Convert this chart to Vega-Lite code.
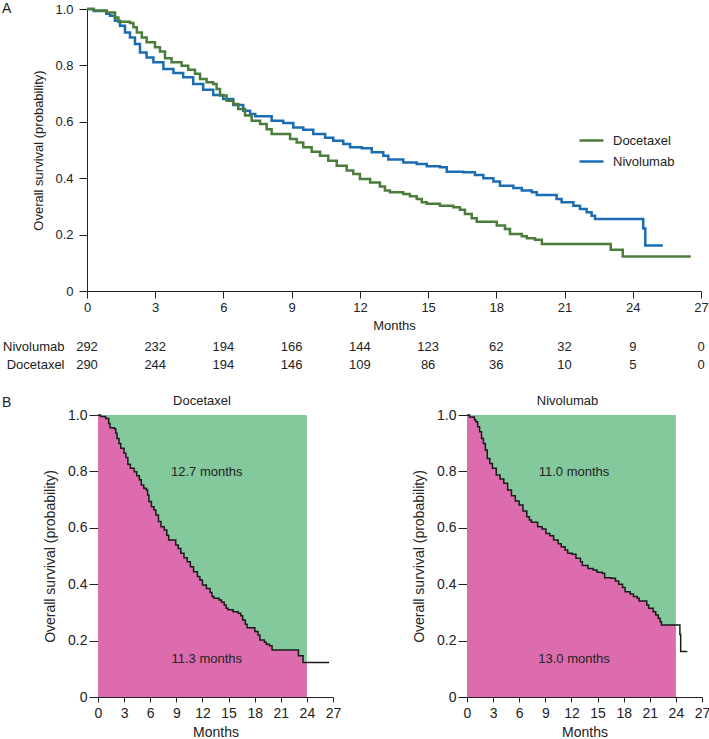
{
  "$schema": "https://vega.github.io/schema/vega-lite/v6.json",
  "padding": {"left": 2, "top": 2, "right": 0, "bottom": 0},
  "config": {
    "font": "Liberation Sans",
    "view": {"stroke": null},
    "axis": {"grid": false, "domainColor": "#222222", "tickColor": "#222222", "labelColor": "#222222", "titleColor": "#222222", "labelFontSize": 13, "titleFontSize": 13, "titleFontWeight": "normal", "labelFlush": false, "labelOverlap": false},
    "title": {"fontSize": 13, "fontWeight": "normal", "color": "#222222"}
  },
  "datasets": {
    "km": [
      {"arm":"Nivolumab","month":0,"surv":1.0},{"arm":"Nivolumab","month":0.3,"surv":0.993},{"arm":"Nivolumab","month":0.85,"surv":0.983},{"arm":"Nivolumab","month":1.01,"surv":0.976},{"arm":"Nivolumab","month":1.23,"surv":0.958},{"arm":"Nivolumab","month":1.45,"surv":0.941},{"arm":"Nivolumab","month":1.67,"surv":0.917},{"arm":"Nivolumab","month":1.89,"surv":0.899},{"arm":"Nivolumab","month":2.11,"surv":0.876},{"arm":"Nivolumab","month":2.33,"surv":0.846},{"arm":"Nivolumab","month":2.62,"surv":0.828},{"arm":"Nivolumab","month":2.92,"surv":0.811},{"arm":"Nivolumab","month":3.36,"surv":0.787},{"arm":"Nivolumab","month":3.8,"surv":0.773},{"arm":"Nivolumab","month":4.23,"surv":0.758},{"arm":"Nivolumab","month":4.67,"surv":0.734},{"arm":"Nivolumab","month":5.11,"surv":0.714},{"arm":"Nivolumab","month":5.55,"surv":0.695},{"arm":"Nivolumab","month":5.99,"surv":0.681},{"arm":"Nivolumab","month":6.43,"surv":0.66},{"arm":"Nivolumab","month":6.87,"surv":0.639},{"arm":"Nivolumab","month":7.17,"surv":0.628},{"arm":"Nivolumab","month":7.4,"surv":0.62},{"arm":"Nivolumab","month":8.12,"surv":0.604},{"arm":"Nivolumab","month":8.63,"surv":0.596},{"arm":"Nivolumab","month":9.07,"surv":0.58},{"arm":"Nivolumab","month":9.51,"surv":0.572},{"arm":"Nivolumab","month":9.95,"surv":0.557},{"arm":"Nivolumab","month":10.47,"surv":0.543},{"arm":"Nivolumab","month":10.83,"surv":0.533},{"arm":"Nivolumab","month":11.27,"surv":0.521},{"arm":"Nivolumab","month":11.57,"surv":0.51},{"arm":"Nivolumab","month":12.08,"surv":0.506},{"arm":"Nivolumab","month":12.52,"surv":0.492},{"arm":"Nivolumab","month":13.03,"surv":0.48},{"arm":"Nivolumab","month":13.25,"surv":0.466},{"arm":"Nivolumab","month":13.91,"surv":0.456},{"arm":"Nivolumab","month":14.5,"surv":0.45},{"arm":"Nivolumab","month":14.94,"surv":0.442},{"arm":"Nivolumab","month":15.52,"surv":0.439},{"arm":"Nivolumab","month":15.82,"surv":0.423},{"arm":"Nivolumab","month":16.55,"surv":0.421},{"arm":"Nivolumab","month":17.06,"surv":0.411},{"arm":"Nivolumab","month":17.43,"surv":0.4},{"arm":"Nivolumab","month":17.87,"surv":0.388},{"arm":"Nivolumab","month":18.16,"surv":0.373},{"arm":"Nivolumab","month":18.75,"surv":0.365},{"arm":"Nivolumab","month":19.12,"surv":0.356},{"arm":"Nivolumab","month":19.56,"surv":0.35},{"arm":"Nivolumab","month":19.78,"surv":0.34},{"arm":"Nivolumab","month":20.65,"surv":0.326},{"arm":"Nivolumab","month":20.87,"surv":0.315},{"arm":"Nivolumab","month":21.39,"surv":0.302},{"arm":"Nivolumab","month":21.68,"surv":0.291},{"arm":"Nivolumab","month":21.97,"surv":0.279},{"arm":"Nivolumab","month":22.19,"surv":0.267},{"arm":"Nivolumab","month":22.34,"surv":0.255},{"arm":"Nivolumab","month":24.0,"surv":0.255},{"arm":"Nivolumab","month":24.46,"surv":0.222},{"arm":"Nivolumab","month":24.55,"surv":0.161},{"arm":"Nivolumab","month":25.32,"surv":0.161},
      {"arm":"Docetaxel","month":0,"surv":1.0},{"arm":"Docetaxel","month":0.3,"surv":0.995},{"arm":"Docetaxel","month":0.87,"surv":0.988},{"arm":"Docetaxel","month":1.23,"surv":0.97},{"arm":"Docetaxel","month":1.38,"surv":0.955},{"arm":"Docetaxel","month":1.89,"surv":0.95},{"arm":"Docetaxel","month":2.04,"surv":0.935},{"arm":"Docetaxel","month":2.19,"surv":0.917},{"arm":"Docetaxel","month":2.41,"surv":0.899},{"arm":"Docetaxel","month":2.62,"surv":0.882},{"arm":"Docetaxel","month":2.99,"surv":0.864},{"arm":"Docetaxel","month":3.21,"surv":0.849},{"arm":"Docetaxel","month":3.43,"surv":0.825},{"arm":"Docetaxel","month":3.72,"surv":0.811},{"arm":"Docetaxel","month":4.16,"surv":0.799},{"arm":"Docetaxel","month":4.45,"surv":0.785},{"arm":"Docetaxel","month":4.75,"surv":0.77},{"arm":"Docetaxel","month":4.97,"surv":0.752},{"arm":"Docetaxel","month":5.26,"surv":0.74},{"arm":"Docetaxel","month":5.55,"surv":0.734},{"arm":"Docetaxel","month":5.7,"surv":0.716},{"arm":"Docetaxel","month":5.85,"surv":0.693},{"arm":"Docetaxel","month":6.14,"surv":0.675},{"arm":"Docetaxel","month":6.43,"surv":0.663},{"arm":"Docetaxel","month":6.65,"surv":0.645},{"arm":"Docetaxel","month":6.95,"surv":0.622},{"arm":"Docetaxel","month":7.24,"surv":0.604},{"arm":"Docetaxel","month":7.61,"surv":0.592},{"arm":"Docetaxel","month":7.9,"surv":0.574},{"arm":"Docetaxel","month":8.12,"surv":0.557},{"arm":"Docetaxel","month":8.93,"surv":0.539},{"arm":"Docetaxel","month":9.22,"surv":0.527},{"arm":"Docetaxel","month":9.51,"surv":0.51},{"arm":"Docetaxel","month":9.88,"surv":0.494},{"arm":"Docetaxel","month":10.25,"surv":0.48},{"arm":"Docetaxel","month":10.61,"surv":0.462},{"arm":"Docetaxel","month":10.98,"surv":0.444},{"arm":"Docetaxel","month":11.42,"surv":0.427},{"arm":"Docetaxel","month":11.71,"surv":0.415},{"arm":"Docetaxel","month":12.0,"surv":0.397},{"arm":"Docetaxel","month":12.45,"surv":0.385},{"arm":"Docetaxel","month":12.88,"surv":0.371},{"arm":"Docetaxel","month":13.1,"surv":0.356},{"arm":"Docetaxel","month":13.32,"surv":0.35},{"arm":"Docetaxel","month":13.91,"surv":0.344},{"arm":"Docetaxel","month":14.2,"surv":0.336},{"arm":"Docetaxel","month":14.5,"surv":0.326},{"arm":"Docetaxel","month":14.72,"surv":0.315},{"arm":"Docetaxel","month":14.94,"surv":0.309},{"arm":"Docetaxel","month":15.52,"surv":0.302},{"arm":"Docetaxel","month":16.11,"surv":0.297},{"arm":"Docetaxel","month":16.4,"surv":0.288},{"arm":"Docetaxel","month":16.62,"surv":0.273},{"arm":"Docetaxel","month":16.92,"surv":0.258},{"arm":"Docetaxel","month":17.14,"surv":0.246},{"arm":"Docetaxel","month":18.02,"surv":0.232},{"arm":"Docetaxel","month":18.38,"surv":0.22},{"arm":"Docetaxel","month":18.6,"surv":0.202},{"arm":"Docetaxel","month":19.12,"surv":0.194},{"arm":"Docetaxel","month":19.34,"surv":0.187},{"arm":"Docetaxel","month":19.7,"surv":0.182},{"arm":"Docetaxel","month":20.0,"surv":0.167},{"arm":"Docetaxel","month":23.03,"surv":0.146},{"arm":"Docetaxel","month":23.56,"surv":0.122},{"arm":"Docetaxel","month":24.0,"surv":0.122},{"arm":"Docetaxel","month":26.55,"surv":0.122}
    ],
    "risk": [
      {"arm":"Nivolumab","month":0,"n":292},{"arm":"Nivolumab","month":3,"n":232},{"arm":"Nivolumab","month":6,"n":194},{"arm":"Nivolumab","month":9,"n":166},{"arm":"Nivolumab","month":12,"n":144},{"arm":"Nivolumab","month":15,"n":123},{"arm":"Nivolumab","month":18,"n":62},{"arm":"Nivolumab","month":21,"n":32},{"arm":"Nivolumab","month":24,"n":9},{"arm":"Nivolumab","month":27,"n":0},
      {"arm":"Docetaxel","month":0,"n":290},{"arm":"Docetaxel","month":3,"n":244},{"arm":"Docetaxel","month":6,"n":194},{"arm":"Docetaxel","month":9,"n":146},{"arm":"Docetaxel","month":12,"n":109},{"arm":"Docetaxel","month":15,"n":86},{"arm":"Docetaxel","month":18,"n":36},{"arm":"Docetaxel","month":21,"n":10},{"arm":"Docetaxel","month":24,"n":5},{"arm":"Docetaxel","month":27,"n":0}
    ],
    "ann": [
      {"arm":"Docetaxel","month":12.5,"surv":0.797,"label":"12.7 months"},
      {"arm":"Docetaxel","month":12.5,"surv":0.135,"label":"11.3 months"},
      {"arm":"Nivolumab","month":12.3,"surv":0.797,"label":"11.0 months"},
      {"arm":"Nivolumab","month":12.3,"surv":0.135,"label":"13.0 months"}
    ]
  },
  "columns": 1,
  "bounds": "flush",
  "spacing": 40,
  "concat": [
    {
      "width": 614,
      "height": 282,
      "title": {"text": "A", "anchor": "start", "frame": "group", "dx": -85, "dy": 17, "fontSize": 14},
      "data": {"name": "km"},
      "mark": {"type": "line", "interpolate": "step-after", "strokeWidth": 2.5},
      "encoding": {
        "x": {"field": "month", "type": "quantitative", "scale": {"domain": [0, 27], "nice": false},
              "axis": {"values": [0,3,6,9,12,15,18,21,24,27], "labelOverlap": false, "title": "Months", "tickSize": 7, "labelPadding": 3, "titlePadding": 5}},
        "y": {"field": "surv", "type": "quantitative", "scale": {"domain": [0, 1], "nice": false},
              "axis": {"values": [0,0.2,0.4,0.6,0.8,1], "labelOverlap": false, "labelExpr": "datum.value == 0 ? '0' : format(datum.value, '.1f')", "title": "Overall survival (probability)", "tickSize": 8, "labelPadding": 6, "titlePadding": 9}},
        "color": {"field": "arm", "type": "nominal",
                  "scale": {"domain": ["Docetaxel", "Nivolumab"], "range": ["#4b7d3a", "#1b6cb3"]},
                  "legend": {"title": null, "orient": "none", "legendX": 491, "legendY": 118, "padding": 0, "symbolType": "stroke", "symbolSize": 576, "symbolStrokeWidth": 2.5, "labelFontSize": 13, "labelColor": "#222222", "labelOffset": 8, "rowPadding": -3}}
      }
    },
    {
      "width": 614,
      "height": 44,
      "data": {"name": "risk"},
      "mark": {"type": "text", "fontSize": 13, "color": "#222222"},
      "encoding": {
        "x": {"field": "month", "type": "quantitative", "scale": {"domain": [0, 27], "nice": false}, "axis": null},
        "y": {"field": "arm", "type": "nominal", "sort": ["Nivolumab", "Docetaxel"],
              "scale": {"type": "point", "padding": 0.722, "align": 0.615},
              "axis": {"title": null, "domain": false, "ticks": false, "labelPadding": 23, "labelFontSize": 13}},
        "text": {"field": "n", "type": "quantitative"}
      }
    },
    {
      "title": {"text": "B", "anchor": "start", "frame": "group", "dx": -85, "dy": 19, "fontSize": 14},
      "hconcat": [
        {
          "width": 246,
          "height": 282,
          "title": {"text": "Docetaxel", "frame": "group", "dx": -8, "dy": 4},
          "data": {"name": "km"},
          "transform": [{"filter": "datum.arm == 'Docetaxel'"}],
          "encoding": {
            "x": {"field": "month", "type": "quantitative", "scale": {"domain": [0, 27], "nice": false, "range": [11, 246]},
                  "axis": {"values": [0,3,6,9,12,15,18,21,24,27], "labelOverlap": false, "labelSeparation": 0, "title": "Months", "tickSize": 5, "labelPadding": 4, "titlePadding": 5, "labelFontSize": 14, "titleFontSize": 14}},
            "y": {"field": "surv", "type": "quantitative", "scale": {"domain": [0, 1], "nice": false},
                  "axis": {"values": [0,0.2,0.4,0.6,0.8,1], "labelOverlap": false, "offset": -11, "labelExpr": "datum.value == 0 ? '0' : format(datum.value, '.1f')", "title": "Overall survival (probability)", "tickSize": 9, "labelPadding": 2, "titlePadding": 10, "labelFontSize": 14, "titleFontSize": 14}}
          },
          "layer": [
            {
              "transform": [{"filter": "datum.month <= 24"}],
              "mark": {"type": "area", "interpolate": "step-after", "color": "#84c99c"},
              "encoding": {"y2": {"datum": 1}}
            },
            {
              "transform": [{"filter": "datum.month <= 24"}],
              "mark": {"type": "area", "interpolate": "step-after", "color": "#dc6cae"},
              "encoding": {}
            },
            {
              "mark": {"type": "line", "interpolate": "step-after", "color": "#1a1a1a", "strokeWidth": 1.5},
              "encoding": {}
            },
            {
              "data": {"name": "ann"},
              "transform": [{"filter": "datum.arm == 'Docetaxel'"}],
              "mark": {"type": "text", "fontSize": 13, "color": "#222222"},
              "encoding": {"text": {"field": "label"}}
            }
          ]
        },
        {
          "width": 235,
          "height": 282,
          "title": {"text": "Nivolumab", "frame": "group", "dx": -17, "dy": 4},
          "data": {"name": "km"},
          "transform": [{"filter": "datum.arm == 'Nivolumab'"}],
          "encoding": {
            "x": {"field": "month", "type": "quantitative", "scale": {"domain": [0, 27], "nice": false},
                  "axis": {"values": [0,3,6,9,12,15,18,21,24,27], "labelOverlap": false, "labelSeparation": 0, "title": "Months", "tickSize": 5, "labelPadding": 4, "titlePadding": 5, "labelFontSize": 14, "titleFontSize": 14}},
            "y": {"field": "surv", "type": "quantitative", "scale": {"domain": [0, 1], "nice": false},
                  "axis": {"values": [0,0.2,0.4,0.6,0.8,1], "labelOverlap": false, "labelExpr": "datum.value == 0 ? '0' : format(datum.value, '.1f')", "title": "Overall survival (probability)", "tickSize": 9, "labelPadding": 2, "titlePadding": 10, "labelFontSize": 14, "titleFontSize": 14}}
          },
          "layer": [
            {
              "transform": [{"filter": "datum.month <= 24"}],
              "mark": {"type": "area", "interpolate": "step-after", "color": "#84c99c"},
              "encoding": {"y2": {"datum": 1}}
            },
            {
              "transform": [{"filter": "datum.month <= 24"}],
              "mark": {"type": "area", "interpolate": "step-after", "color": "#dc6cae"},
              "encoding": {}
            },
            {
              "mark": {"type": "line", "interpolate": "step-after", "color": "#1a1a1a", "strokeWidth": 1.5},
              "encoding": {}
            },
            {
              "data": {"name": "ann"},
              "transform": [{"filter": "datum.arm == 'Nivolumab'"}],
              "mark": {"type": "text", "fontSize": 13, "color": "#222222"},
              "encoding": {"text": {"field": "label"}}
            }
          ]
        }
      ],
      "bounds": "flush",
      "spacing": 134
    }
  ]
}
